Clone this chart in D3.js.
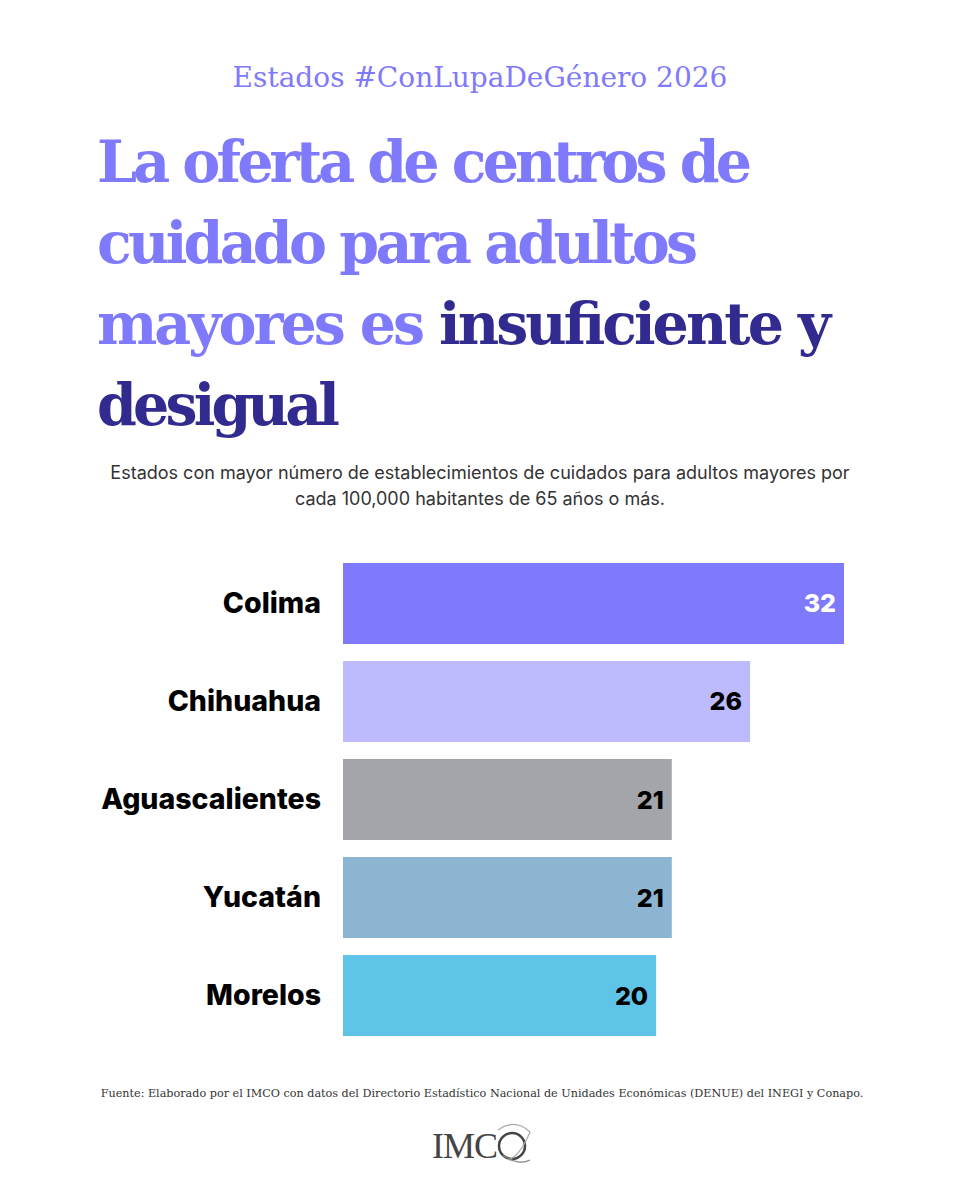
<!DOCTYPE html>
<html>
<head>
<meta charset="utf-8">
<script src="https://cdn.jsdelivr.net/npm/d3@7"></script>
<style>
  body { margin: 0; background: #fff; }
  svg { display: block; }
</style>
</head>
<body>
<div id="chart"></div>
<script>
    'use strict';

    // datos
    var estados = ["Colima", "Chihuahua", "Aguascalientes", "Yucatán", "Morelos"];
    var valores = [32, 26, 21, 21, 20];
    var colores = ["#7f7afc", "#bdbafe", "#a4a5aa", "#8db4d0", "#60c3e8"];
    var coloresValor = ["#ffffff", "#000000", "#000000", "#000000", "#000000"];

    var kicker = "Estados #ConLupaDeGénero 2026";
    var tituloLineas = [
        [["La oferta de centros de", "#7f7afc"]],
        [["cuidado para adultos", "#7f7afc"]],
        [["mayores es ", "#7f7afc"], ["insuficiente y", "#312b8f"]],
        [["desigual", "#312b8f"]]
    ];
    // ancho de cada linea del titulo en la imagen original
    var tituloAnchos = [655, 601, 734, 243];
    var subtitulo = [
        "Estados con mayor número de establecimientos de cuidados para adultos mayores por",
        "cada 100,000 habitantes de 65 años o más."
    ];
    var fuente = "Fuente: Elaborado por el IMCO con datos del Directorio Estadístico Nacional de Unidades Económicas (DENUE) del INEGI y Conapo.";

    var W = 960, H = 1200;
    var serif = "'DejaVu Serif', 'Liberation Serif', serif";
    var sans = "Inter, 'Liberation Sans', Arial, sans-serif";

    var svg = d3.select("#chart").append("svg")
        .attr("width", W)
        .attr("height", H);

    svg.append("rect").attr("width", W).attr("height", H).attr("fill", "#fff");

    // kicker
    svg.append("text")
        .attr("x", 480)
        .attr("y", 87)
        .attr("text-anchor", "middle")
        .style("font-family", serif)
        .style("font-size", "28px")
        .style("fill", "#7f7afc")
        .text(kicker);

    // titulo
    var titulo = svg.append("g").attr("class", "titulo");
    var lineas = titulo.selectAll("text")
        .data(tituloLineas)
        .enter().append("text")
        .attr("x", 97)
        .attr("y", function(d, i) { return 182 + i * 81; })
        .attr("textLength", function(d, i) { return tituloAnchos[i]; })
        .attr("lengthAdjust", "spacing")
        .style("font-family", serif)
        .style("font-weight", "bold")
        .style("font-size", "57px");

    lineas.selectAll("tspan")
        .data(function(d) { return d; })
        .enter().append("tspan")
        .style("fill", function(d) { return d[1]; })
        .text(function(d) { return d[0]; });

    // subtitulo
    svg.append("g").selectAll("text")
        .data(subtitulo)
        .enter().append("text")
        .attr("x", 480)
        .attr("y", function(d, i) { return 479 + i * 26; })
        .attr("text-anchor", "middle")
        .style("font-family", "Inter, sans-serif")
        .style("font-size", "18px")
        .style("fill", "#333")
        .text(function(d) { return d; });

    // escalas
    var x = d3.scaleLinear()
        .domain([0, 32])
        .range([343, 844]);

    var y = d3.scaleBand()
        .domain(estados)
        .range([563, 1036])
        .paddingInner(0.1735)
        .paddingOuter(0);

    var barras = svg.append("g").attr("class", "barras");

    barras.selectAll("rect")
        .data(estados)
        .enter().append("rect")
        .attr("x", x(0))
        .attr("y", function(d) { return y(d); })
        .attr("width", function(d, i) { return x(valores[i]) - x(0); })
        .attr("height", y.bandwidth())
        .attr("fill", function(d, i) { return colores[i]; });

    barras.selectAll("text.valor")
        .data(estados)
        .enter().append("text")
        .attr("class", "valor")
        .attr("x", function(d, i) { return x(valores[i]) - 8; })
        .attr("y", function(d) { return y(d) + y.bandwidth() / 2; })
        .attr("dy", "0.36em")
        .attr("text-anchor", "end")
        .style("font-family", sans)
        .style("font-weight", "800")
        .style("font-size", "25px")
        .style("fill", function(d, i) { return coloresValor[i]; })
        .text(function(d, i) { return valores[i]; });

    barras.selectAll("text.estado")
        .data(estados)
        .enter().append("text")
        .attr("class", "estado")
        .attr("x", 321)
        .attr("y", function(d) { return y(d) + y.bandwidth() / 2 - 1; })
        .attr("dy", "0.36em")
        .attr("text-anchor", "end")
        .style("font-family", sans)
        .style("font-weight", "800")
        .style("font-size", "28.5px")
        .style("fill", "#000")
        .text(function(d) { return d; });

    // fuente
    svg.append("text")
        .attr("x", 482)
        .attr("y", 1097)
        .attr("text-anchor", "middle")
        .style("font-family", serif)
        .style("font-size", "11.2px")
        .style("fill", "#333")
        .text(fuente);

    // logo IMCO
    var logo = svg.append("g").attr("class", "logo");
    logo.append("text")
        .attr("x", 432)
        .attr("y", 1158)
        .style("font-family", "'Liberation Serif', serif")
        .style("font-size", "36px")
        .style("fill", "#444")
        .style("letter-spacing", "-1px")
        .text("IMC");
    logo.append("circle")
        .attr("cx", 512)
        .attr("cy", 1146)
        .attr("r", 13)
        .attr("fill", "none")
        .attr("stroke", "#444")
        .attr("stroke-width", 2.5);
    logo.append("path")
        .attr("d", "M498,1130 Q515,1118 530,1132 Q520,1156 508,1160")
        .attr("fill", "none")
        .attr("stroke", "#aaa")
        .attr("stroke-width", 1.2);
    logo.append("path")
        .attr("d", "M503,1155 Q518,1166 530,1160")
        .attr("fill", "none")
        .attr("stroke", "#888")
        .attr("stroke-width", 1.2);
</script>
</body>
</html>
